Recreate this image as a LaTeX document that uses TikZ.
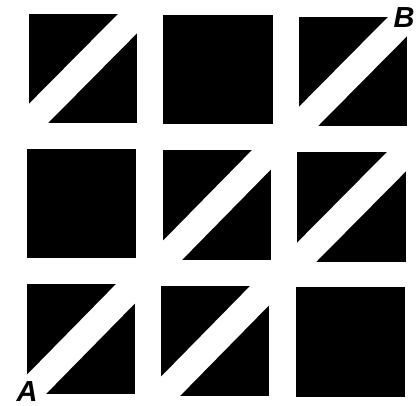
\documentclass[tikz,border=0pt]{standalone}
\usepackage{fontspec}
\setmainfont{Liberation Sans}
\newcommand\blksq[4]{\fill[black] (#1,#2) rectangle (#3,#4);}
\newcommand\cutblk[4]{%
  \begin{scope}
    \clip (#1,#2) rectangle (#3,#4);
    \fill[black] (#1,#2) rectangle (#3,#4);
    \draw[strip] ($(#1,#4)!-0.3!(#3,#2)$) -- ($(#3,#2)!-0.3!(#1,#4)$);
  \end{scope}}
\usetikzlibrary{calc}
\begin{document}
\begin{tikzpicture}[x=1pt,y=-1pt,
  strip/.style={white,line width=27pt,line cap=butt},
  lbl/.style={font=\bfseries\itshape\fontsize{29}{29}\selectfont,inner sep=0pt,anchor=base}]
\useasboundingbox (0,0) rectangle (420,405);
\fill[white] (0,0) rectangle (420,405);
% top row
\cutblk{29}{14}{137}{123}
\blksq{163}{15}{273}{124}
\cutblk{299}{17}{407}{126}
% middle row
\blksq{27}{149}{136}{258}
\cutblk{163}{150}{271}{260}
\cutblk{297}{152}{406}{262}
% bottom row
\cutblk{27}{284}{135}{394}
\cutblk{161}{286}{269}{396}
\blksq{296}{287}{405}{397}
% labels
\node[lbl] (A) at (27,401) {A};
\node[lbl] (B) at (404,27) {B};
\end{tikzpicture}
\end{document}
